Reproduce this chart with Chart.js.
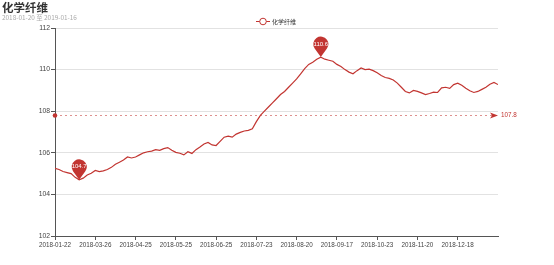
<!DOCTYPE html>
<html>
<head>
<meta charset="utf-8">
<script src="https://cdn.jsdelivr.net/npm/chart.js@4.4.1/dist/chart.umd.min.js"></script>
<style>
  html, body { margin: 0; padding: 0; background: #fff; }
</style>
</head>
<body>
<canvas id="fiberChart" width="554" height="265"></canvas>
<script>
// Chart texts
const chartTitle = '化学纤维';
const chartSubtitle = '2018-01-20 至 2019-01-16';
const seriesName = '化学纤维';

// x axis labels, one every 20 data points
const tickLabels = [
    '2018-01-22', '2018-03-26', '2018-04-25', '2018-05-25', '2018-06-25', '2018-07-23',
    '2018-08-20', '2018-09-17', '2018-10-23', '2018-11-20', '2018-12-18'
];
const labelEvery = 20;   // data points between two labels
const sampleEvery = 2;   // data points between two values below
const lastIndex = 220;

// index values (every 2nd point)
const values = [
    105.25, 105.2, 105.1, 105.05, 105.0, 104.82, 104.7, 104.78, 104.93, 105.02,
    105.15, 105.1, 105.13, 105.2, 105.3, 105.45, 105.55, 105.65, 105.8, 105.75,
    105.8, 105.9, 106.0, 106.05, 106.08, 106.15, 106.12, 106.2, 106.25, 106.12,
    106.02, 105.98, 105.9, 106.05, 105.97, 106.15, 106.28, 106.42, 106.5, 106.38,
    106.35, 106.55, 106.75, 106.8, 106.75, 106.9, 106.98, 107.05, 107.08, 107.15,
    107.5, 107.8, 108.0, 108.2, 108.4, 108.6, 108.8, 108.95, 109.15, 109.35,
    109.55, 109.8, 110.05, 110.25, 110.35, 110.5, 110.6, 110.5, 110.45, 110.4,
    110.25, 110.15, 110.0, 109.88, 109.8, 109.95, 110.08, 110.0, 110.02, 109.95,
    109.85, 109.72, 109.62, 109.58, 109.5, 109.35, 109.15, 108.95, 108.88, 109.0,
    108.95, 108.88, 108.8, 108.85, 108.92, 108.9, 109.12, 109.15, 109.1, 109.28,
    109.35, 109.25, 109.1, 108.98, 108.9, 108.95, 109.05, 109.15, 109.3, 109.38, 109.28
];

// y axis range
const yMin = 102;
const yMax = 112;
const yStep = 2;

const RED = '#c23531';
const AXIS = '#555';
const CJK = '"Noto Sans CJK SC", "Noto Sans", sans-serif';
const LATIN = '"Liberation Sans", Arial, sans-serif';

const points = values.map((v, i) => ({ x: i * sampleEvery, y: v }));

// title, subtitle and legend
const decorPlugin = {
    id: 'decor',
    afterDraw(chart) {
        const ctx = chart.ctx;
        ctx.save();
        ctx.textBaseline = 'middle';
        ctx.textAlign = 'left';

        ctx.fillStyle = '#333';
        ctx.font = 'bold 11.5px ' + CJK;
        ctx.fillText(chartTitle, 2, 8);

        ctx.fillStyle = '#aaa';
        ctx.font = '6.4px ' + CJK;
        ctx.fillText(chartSubtitle, 2, 17.5);

        // legend icon: line with hollow circle
        const lx = 263, ly = 21.5;
        ctx.strokeStyle = RED;
        ctx.lineWidth = 1;
        ctx.beginPath();
        ctx.moveTo(lx - 7, ly);
        ctx.lineTo(lx + 7, ly);
        ctx.stroke();
        ctx.beginPath();
        ctx.arc(lx, ly, 3.3, 0, Math.PI * 2);
        ctx.fillStyle = '#fff';
        ctx.fill();
        ctx.stroke();

        ctx.fillStyle = '#333';
        ctx.font = '6px ' + CJK;
        ctx.fillText(seriesName, 272, ly);
        ctx.restore();
    }
};

// average line plus min / max pins
const marksPlugin = {
    id: 'marks',
    afterDatasetsDraw(chart) {
        const ctx = chart.ctx;
        const xs = chart.scales.x;
        const ys = chart.scales.y;
        const area = chart.chartArea;

        const avg = values.reduce((a, b) => a + b, 0) / values.length;
        const ay = Math.round(ys.getPixelForValue(avg)) + 0.5;

        ctx.save();
        ctx.strokeStyle = 'rgba(194, 53, 49, 0.55)';
        ctx.fillStyle = RED;
        ctx.lineWidth = 1;
        ctx.setLineDash([2, 3]);
        ctx.beginPath();
        ctx.moveTo(area.left, ay);
        ctx.lineTo(area.right - 6, ay);
        ctx.stroke();
        ctx.setLineDash([]);

        ctx.beginPath();
        ctx.arc(area.left, ay, 2.3, 0, Math.PI * 2);
        ctx.fill();

        ctx.beginPath();
        ctx.moveTo(area.right - 8, ay - 3);
        ctx.lineTo(area.right, ay);
        ctx.lineTo(area.right - 8, ay + 3);
        ctx.lineTo(area.right - 6, ay);
        ctx.closePath();
        ctx.fill();

        ctx.font = '6.3px ' + LATIN;
        ctx.textAlign = 'left';
        ctx.textBaseline = 'middle';
        ctx.fillText(avg.toFixed(1), area.right + 3, ay);

        // pins
        const minV = Math.min(...values);
        const maxV = Math.max(...values);
        [minV, maxV].forEach(v => {
            const i = values.indexOf(v);
            const px = xs.getPixelForValue(i * sampleEvery);
            const py = ys.getPixelForValue(v);
            const r = 7.5;
            const cy = py - 13;
            const a1 = 145 * Math.PI / 180;
            const a2 = 35 * Math.PI / 180;
            ctx.fillStyle = RED;
            ctx.beginPath();
            ctx.arc(px, cy, r, a1, a2 + Math.PI * 2, false);
            ctx.lineTo(px, py);
            ctx.closePath();
            ctx.fill();

            ctx.fillStyle = '#fff';
            ctx.font = '6px ' + LATIN;
            ctx.textAlign = 'center';
            ctx.textBaseline = 'middle';
            ctx.fillText(v.toFixed(1), px, cy);
        });
        ctx.restore();
    }
};

const ctx = document.getElementById('fiberChart').getContext('2d');
const fiberChart = new Chart(ctx, {
    type: 'line',
    data: {
        datasets: [{
            label: seriesName,
            data: points,
            borderColor: RED,
            borderWidth: 1.2,
            pointRadius: 0,
            pointHoverRadius: 0,
            tension: 0,
            fill: false
        }]
    },
    options: {
        responsive: false,
        animation: false,
        devicePixelRatio: 1,
        layout: {
            padding: { left: 0, right: 56, top: 28, bottom: 0 }
        },
        plugins: {
            legend: { display: false },
            title: { display: false },
            tooltip: { enabled: false }
        },
        scales: {
            x: {
                type: 'linear',
                min: 0,
                max: lastIndex,
                afterBuildTicks: scale => {
                    scale.ticks = tickLabels.map((_, i) => ({ value: i * labelEvery }));
                },
                afterFit: scale => { scale.height = 29; },
                ticks: {
                    autoSkip: false,
                    maxRotation: 0,
                    padding: 1,
                    color: '#444',
                    font: { size: 6.3, family: LATIN },
                    callback: v => tickLabels[Math.round(v / labelEvery)] || ''
                },
                grid: {
                    drawOnChartArea: false,
                    drawTicks: true,
                    tickLength: 4,
                    tickColor: AXIS
                },
                border: { color: AXIS, width: 1 }
            },
            y: {
                min: yMin,
                max: yMax,
                afterFit: scale => { scale.width = 55; },
                ticks: {
                    stepSize: yStep,
                    padding: 1,
                    color: '#444',
                    font: { size: 6.8, family: LATIN }
                },
                grid: {
                    color: '#e2e2e2',
                    tickColor: AXIS,
                    tickLength: 4
                },
                border: { color: AXIS, width: 1 }
            }
        }
    },
    plugins: [decorPlugin, marksPlugin]
});
</script>
</body>
</html>
